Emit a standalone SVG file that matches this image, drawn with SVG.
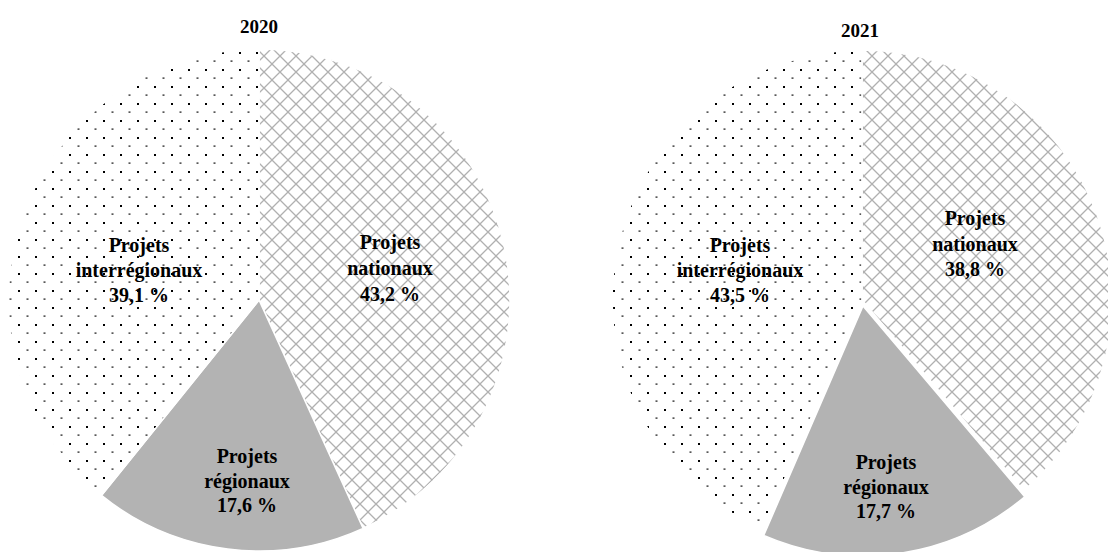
<svg xmlns="http://www.w3.org/2000/svg" width="1108" height="552" viewBox="0 0 1108 552">
<style>
.t{font-family:"Liberation Serif","Times New Roman",serif;font-weight:bold;fill:#000;text-anchor:middle}
.lab{font-size:20px}
.title{font-size:19px}
.sl{stroke:#fff;stroke-width:1.5}
.reg{fill:#b3b3b3}
.dots{fill:url(#dots)}
.cross{fill:url(#cross)}
</style>
<defs>
<pattern id="dots" patternUnits="userSpaceOnUse" width="17" height="17">
<rect width="17" height="17" fill="#fff"/>
<rect x="1" y="1" width="2" height="2" fill="#000"/>
<rect x="9.5" y="9.5" width="2" height="1.2" fill="#111"/>
</pattern>
<pattern id="cross" patternUnits="userSpaceOnUse" width="16" height="16">
<rect width="16" height="16" fill="#fff"/>
<path d="M0 0L16 16M16 0L0 16" stroke="#b0b0b0" stroke-width="1.3" fill="none"/>
</pattern>
</defs>
<g id="pie2020">
<path id="n2020" class="cross sl" d="M259 300L259 49A251 251 0 0 1 363.1 528.4Z"/>
<path id="r2020" class="reg sl" d="M259 300L363.1 528.4A251 251 0 0 1 101.5 495.4Z"/>
<path id="i2020" class="dots sl" d="M259 300L101.5 495.4A251 251 0 0 1 259 49Z"/>
<text class="t title" x="259" y="33">2020</text>
<text class="t lab" x="390" y="249">Projets</text>
<text class="t lab" x="390" y="275">nationaux</text>
<text class="t lab" x="390" y="301">43,2 %</text>
<text class="t lab" x="139" y="252">Projets</text>
<text class="t lab" x="139" y="277">interrégionaux</text>
<text class="t lab" x="139" y="302">39,1 %</text>
<text class="t lab" x="247" y="463">Projets</text>
<text class="t lab" x="247" y="488">régionaux</text>
<text class="t lab" x="247" y="512">17,6 %</text>
</g>
<g id="pie2021">
<path id="n2021" class="cross sl" d="M862 300L862 50A250 250 0 0 1 1023.7 490.7Z"/>
<path id="i2021" class="dots sl" d="M862 300L762.7 529.4A250 250 0 0 1 862 50Z"/>
<path id="r2021" class="reg sl" transform="translate(1,6)" d="M862 300L1023.7 490.7A250 250 0 0 1 762.7 529.4Z"/>
<text class="t title" x="860" y="37">2021</text>
<text class="t lab" x="975" y="225">Projets</text>
<text class="t lab" x="975" y="251">nationaux</text>
<text class="t lab" x="975" y="276">38,8 %</text>
<text class="t lab" x="740" y="252">Projets</text>
<text class="t lab" x="740" y="277">interrégionaux</text>
<text class="t lab" x="740" y="302">43,5 %</text>
<text class="t lab" x="886" y="469">Projets</text>
<text class="t lab" x="886" y="494">régionaux</text>
<text class="t lab" x="886" y="518">17,7 %</text>
</g>
<g id="connectors"/>
</svg>
